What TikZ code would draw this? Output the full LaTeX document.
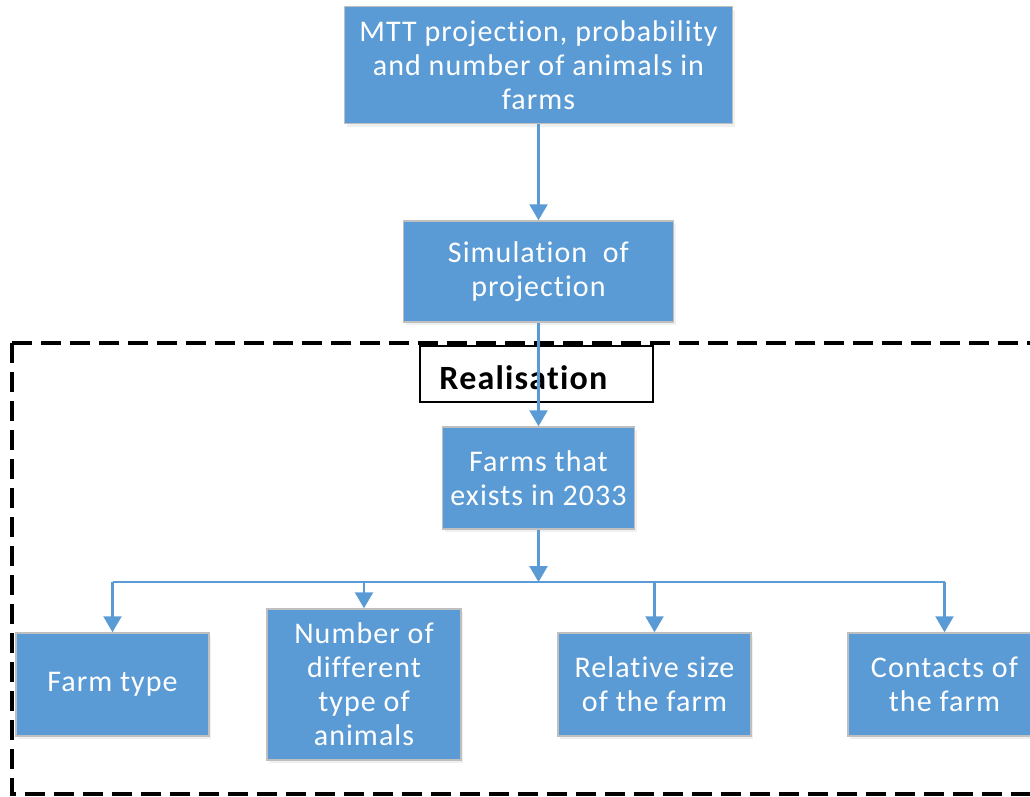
\documentclass[tikz,border=0pt]{standalone}
\usepackage{fontspec}
\setmainfont[LetterSpace=3.5, Ligatures={NoCommon}]{Carlito}
\usepackage{tikz}
\usetikzlibrary{arrows.meta,positioning,calc,shadows}

\definecolor{boxblue}{HTML}{5B9BD5}
\definecolor{boxedge}{HTML}{BFBFBF}

\begin{document}
\begin{tikzpicture}[x=1pt, y=-1pt,
    box/.style={draw=boxedge, line width=1.5pt, fill=boxblue, text=white, align=center,
        inner sep=0pt, font=\fontsize{30}{34}\selectfont,
        drop shadow={opacity=0.12, shadow xshift=2pt, shadow yshift=-3pt}},
    flowline/.style={draw=boxblue, line width=2.5pt},
    flowarrow/.style={flowline, -{Triangle[length=16pt,width=18pt]}}]
    \useasboundingbox (0,0) rectangle (1030,796);

    % Realisation frame
    \draw[line width=4pt, dash pattern=on 20pt off 9pt] (12,343) rectangle (1050,794);

    % Upper chain
    \node[box, minimum width=388pt, minimum height=117pt] (mtt) at (538.5,65)
        {MTT projection, probability\\and number of animals in\\farms};
    \node[box, minimum width=270pt, minimum height=101pt] (sim) at (538.5,271.5)
        {Simulation\ \ of\\projection};
    \node[draw, line width=1.5pt, fill=white, minimum width=233pt, minimum height=56pt,
        inner sep=0pt] (real) at (536.5,374) {};
    \node[anchor=west, font=\fontsize{34}{38}\selectfont\bfseries, inner sep=0pt]
        (reallabel) at ($(real.west)+(20,4)$) {Realisation};
    \node[box, minimum width=192pt, minimum height=102pt] (farms) at (538.5,478)
        {Farms that\\exists in 2033};

    % Outcomes
    \node[box, minimum width=193pt, minimum height=103pt] (ftype) at (112.5,684.5)
        {\raisebox{-3pt}{Farm type}};
    \node[box, minimum width=194pt, minimum height=151pt] (nanim) at (364,684.5)
        {Number of\\different\\type of\\animals};
    \node[box, minimum width=193pt, minimum height=103pt] (rsize) at (654.5,684.5)
        {Relative size\\of the farm};
    \node[box, minimum width=193pt, minimum height=103pt] (contacts) at (944.5,684.5)
        {Contacts of\\the farm};

    % Connectors
    \coordinate (bus) at (538.5,582);
    \draw[flowarrow] (mtt) -- (sim);
    \draw[flowarrow] (sim) -- (farms);
    \draw[flowarrow] (farms) -- (bus);
    \draw[flowline] (ftype.north |- bus) -- (contacts.north |- bus);
    \foreach \n in {ftype,nanim,rsize,contacts}
        \draw[flowarrow] (\n.north |- bus) -- (\n.north);
\end{tikzpicture}
\end{document}
